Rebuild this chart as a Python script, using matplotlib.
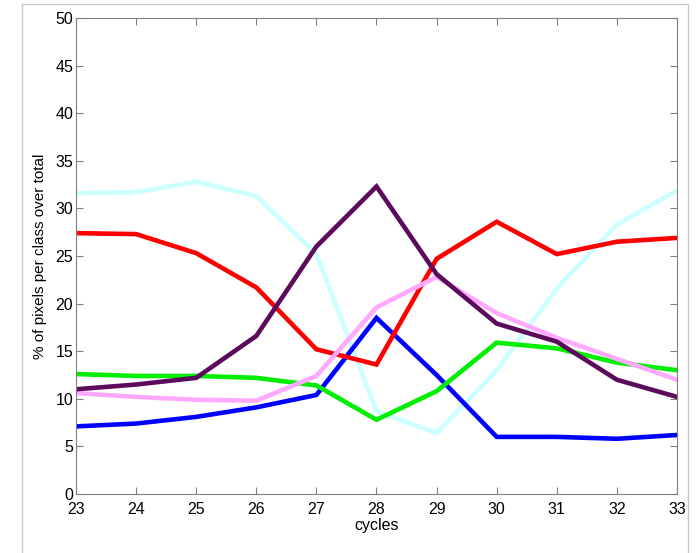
import matplotlib
matplotlib.use("Agg")
import matplotlib.pyplot as plt
from matplotlib.patches import Rectangle

plt.rcParams['font.family'] = ['Liberation Sans', 'DejaVu Sans']

# data
cycles = [23, 24, 25, 26, 27, 28, 29, 30, 31, 32, 33]
cyan_vals = [31.6, 31.7, 32.8, 31.3, 25.2, 8.7, 6.4, 13.0, 21.6, 28.3, 31.9]
blue_vals = [7.1, 7.4, 8.1, 9.1, 10.4, 18.5, 12.5, 6.0, 6.0, 5.8, 6.2]
green_vals = [12.6, 12.4, 12.4, 12.2, 11.4, 7.8, 10.8, 15.9, 15.3, 13.8, 13.0]
red_vals = [27.4, 27.3, 25.3, 21.7, 15.2, 13.6, 24.7, 28.6, 25.2, 26.5, 26.9]
pink_vals = [10.6, 10.2, 9.9, 9.8, 12.4, 19.6, 22.8, 19.0, 16.4, 14.2, 12.0]
purple_vals = [11.0, 11.5, 12.2, 16.6, 26.0, 32.3, 23.1, 17.9, 16.0, 12.0, 10.2]

series = [
    (cyan_vals, "#ccffff"),
    (blue_vals, "#0000ff"),
    (green_vals, "#00ee00"),
    (red_vals, "#ff0000"),
    (pink_vals, "#ffaaff"),
    (purple_vals, "#5c0a5c"),
]

fig = plt.figure(figsize=(6.97, 5.53), dpi=100)
# light window frame around the plot
fig.patches.append(Rectangle((22 / 697, -0.01), (688 - 22) / 697, 1.01 - 4 / 553,
                             transform=fig.transFigure, fill=False,
                             edgecolor="#c8c8c8", linewidth=1))

ax = fig.add_axes([76 / 697, 59 / 553, (677 - 76) / 697, (494 - 18) / 553])

for vals, col in series:
    ax.plot(cycles, vals, color=col, linewidth=3.3, solid_joinstyle="miter")

ax.set_xlim(23, 33)
ax.set_ylim(0, 50)
ax.set_xticks(cycles)
ax.set_yticks(range(0, 51, 5))
ax.tick_params(direction="in", top=True, right=True, length=5,
               color="#808080", labelsize=11.5)
ax.tick_params(axis="x", pad=5.5)
ax.tick_params(axis="y", pad=2)
for s in ax.spines.values():
    s.set_color("#808080")
ax.set_xlabel("cycles", fontsize=11.5, labelpad=1)
ax.set_ylabel("% of pixels per class over total", fontsize=11, labelpad=6)

fig.savefig("out.png", dpi=100)
